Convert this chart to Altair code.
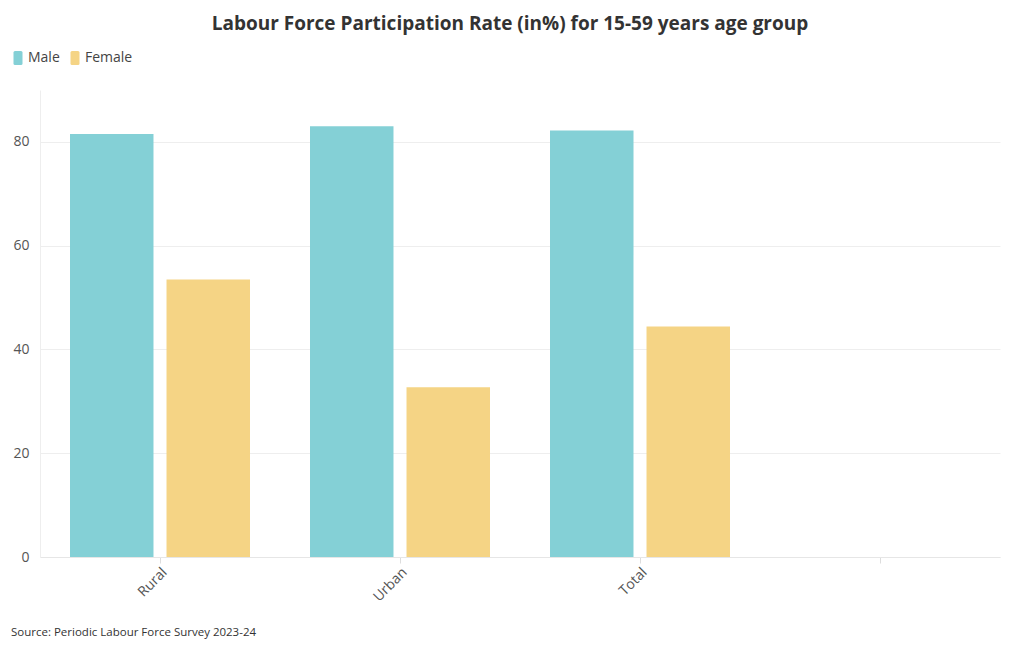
import altair as alt
import pandas as pd

categories = ["Rural", "Urban", "Total", ""]
genders = ["Male", "Female"]
male_values = [81.5, 83.0, 82.2]
female_values = [53.5, 32.7, 44.4]
colors = ["#84D0D6", "#F5D485"]
title_text = "Labour Force Participation Rate (in%) for 15-59 years age group"
source_text = "Source: Periodic Labour Force Survey 2023-24"
y_ticks = [0, 20, 40, 60, 80]

rows = []
for i, c in enumerate(categories[:3]):
    rows.append({"category": c, "gender": "Male", "value": male_values[i]})
    rows.append({"category": c, "gender": "Female", "value": female_values[i]})
df = pd.DataFrame(rows)

FONT = "Open Sans"
rr = ("M -0.6,-1.4 L 0.6,-1.4 Q 0.9,-1.4 0.9,-1.1 L 0.9,1.1 Q 0.9,1.4 0.6,1.4 "
      "L -0.6,1.4 Q -0.9,1.4 -0.9,1.1 L -0.9,-1.1 Q -0.9,-1.4 -0.6,-1.4 Z")

bars = alt.Chart(df).mark_bar(opacity=1).encode(
    x=alt.X("category:N", sort=categories,
            scale=alt.Scale(domain=categories, paddingInner=0.25, paddingOuter=0.125),
            axis=alt.Axis(title=None, labelAngle=-45, labelAlign="right", labelBaseline="top",
                          labelFontSize=14, labelColor="#555555", labelFont=FONT,
                          domainColor="#e6e6e6", tickColor="#dddddd", tickSize=6,
                          labelPadding=2, grid=False)),
    xOffset=alt.XOffset("gender:N", sort=genders,
                        scale=alt.Scale(domain=genders, paddingInner=0.135, paddingOuter=0)),
    y=alt.Y("value:Q", scale=alt.Scale(domain=[0, 90], nice=False),
            axis=alt.Axis(title=None, values=y_ticks, labelFontSize=14, labelColor="#555555",
                          labelFont=FONT, ticks=False, labelPadding=11,
                          domainColor="#eeeeee", gridColor="#eeeeee")),
    color=alt.Color("gender:N", sort=genders,
                    scale=alt.Scale(domain=genders, range=colors),
                    legend=alt.Legend(title=None, orient="none", legendX=-29, legendY=-39,
                                      direction="horizontal", symbolType=rr, symbolSize=100,
                                      symbolStrokeWidth=0, labelFontSize=14, labelColor="#444444",
                                      labelFont=FONT, columnPadding=8, labelOffset=3)),
)

src = alt.Chart(pd.DataFrame({"t": [source_text]})).mark_text(
    align="left", baseline="middle", fontSize=11.5, color="#333333", font=FONT
).encode(text="t:N", x=alt.value(-29), y=alt.value(543))

chart = alt.layer(bars, src).properties(
    width=960, height=467,
    title=alt.TitleParams(title_text, fontSize=19, fontWeight="bold", color="#333333",
                          font=FONT, anchor="middle", dx=-10, offset=17),
    padding={"left": 32, "top": 82, "right": 12, "bottom": 85},
    autosize=alt.AutoSizeParams(type="none"),
).configure_view(stroke=None)

chart.save("out.html", embed_options={"renderer": "svg", "actions": False})
